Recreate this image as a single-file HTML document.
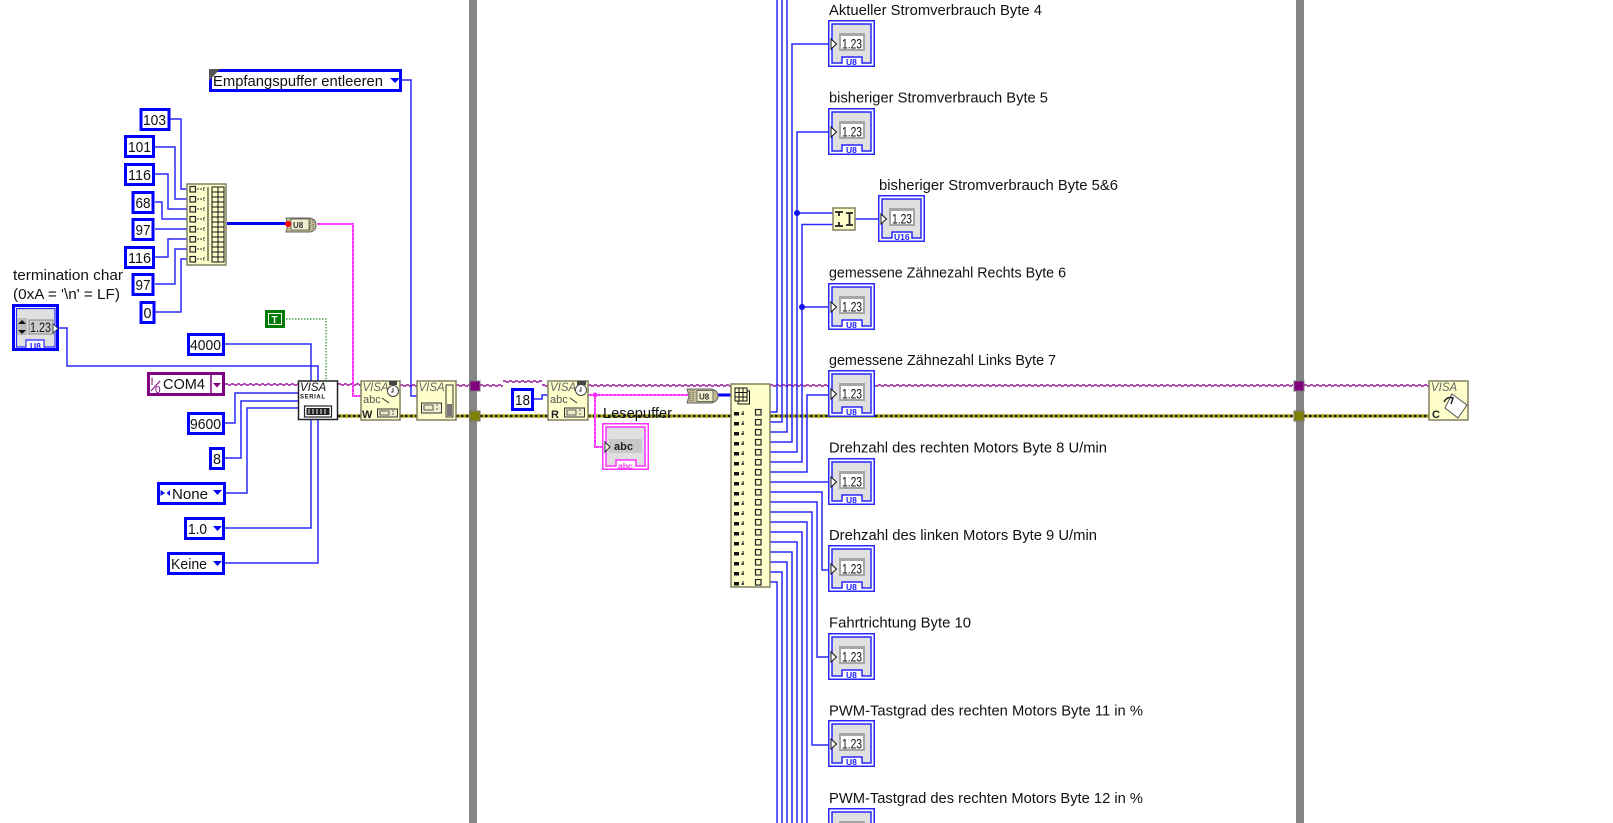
<!DOCTYPE html>
<html><head><meta charset="utf-8"><title>VISA diagram</title>
<style>
html,body{margin:0;padding:0;background:#fff;width:1613px;height:823px;overflow:hidden}
svg{display:block;filter:blur(.35px)}
text{font-family:"Liberation Sans",sans-serif;fill:#111}
.w{fill:none;stroke:#2828ff;stroke-width:1.5}
.pu{fill:none;stroke:#980c98;stroke-width:1.6;stroke-dasharray:3 3}
.c{fill:#fff;stroke:#0000ff;stroke-width:3}
.n{fill:#ffffcc;stroke:#808060;stroke-width:1.5}
.v{font-style:italic;font-size:11.5px;fill:#666}
.lb{font-size:14.5px}
.num{font-size:15px}
.d{font-size:13.5px;fill:#111}
.u{font-size:8.5px;font-weight:bold;fill:#2020ff}
</style></head><body>
<svg width="1613" height="823" viewBox="0 0 1613 823" xmlns="http://www.w3.org/2000/svg">
<defs>
<g id="ind">
<rect x=".75" y=".75" width="45.5" height="45.5" fill="#fff" stroke="#2828ff" stroke-width="1.5"/>
<path d="M4 4H43V43H34V37H14V43H4Z" fill="#e0e0e0" stroke="#2828ff" stroke-width="1.5"/>
<rect x="11" y="13" width="26" height="18" fill="#a6a6a6"/>
<rect x="13" y="16" width="22" height="13" fill="#fff"/>
<path d="M3 19L8.500 24L3 29Z" fill="#fff" stroke="#111" stroke-width="1"/>
</g>
<g id="ar"><rect x="734" y="0" width="5" height="3.500" fill="#111"/><path d="M741 2h3M743 -1v4" stroke="#111" fill="none"/><rect x="755.500" y="-2.500" width="5.500" height="5.500" fill="#ffffcc" stroke="#222" stroke-width="1.200"/></g>
<g id="bi"><rect x="190" y="-2.500" width="5.500" height="5.500" fill="#ffffcc" stroke="#222" stroke-width="1.200"/><path d="M197 0h7M204 -2v4" stroke="#333" stroke-dasharray="2 1" fill="none"/></g>
</defs>

<!-- structure bars -->
<rect x="469" y="0" width="8" height="823" fill="#868686"/>
<rect x="1296" y="0" width="8" height="823" fill="#868686"/>

<!-- purple session wire -->
<g>
<path class="pu" d="M225 384H298M338 384H361M400 385H417M456 385H470M480 385H503M503 381H542M542 385H548M588 385H731M770 385H1293M1304 385H1429"/>
<path class="pu" d="M225 385H298M338 385H361M400 386H417M456 386H470M480 386H503M503 382H542M542 386H548M588 386H731M770 386H1293M1304 386H1429" stroke-dashoffset="3"/>
</g>
<!-- error wire -->
<path d="M338 416H361M400 416H417M456 416H470M480 416H548M588 416H731M770 416H1293M1304 416H1429" fill="none" stroke="#aaaa18" stroke-width="3.500"/>
<path d="M338 416H361M400 416H417M456 416H470M480 416H548M588 416H731M770 416H1293M1304 416H1429" fill="none" stroke="#1c1c1c" stroke-width="2.200" stroke-dasharray="2.500 2.500"/>

<!-- tunnels -->
<rect x="470" y="381" width="10" height="10" fill="#800080" stroke="#777"/>
<rect x="470" y="411" width="10" height="10" fill="#808000" stroke="#777"/>
<rect x="1294" y="381" width="10" height="10" fill="#800080" stroke="#777"/>
<rect x="1294" y="411" width="10" height="10" fill="#808000" stroke="#777"/>

<!-- left wires -->
<path class="w" d="M170 119H181V189H187M155 147H175V199H187M155 174H168V209H187M155 202H162V219H187M155 229H187M155 257H168V239H187M155 284H175V249H187M155 312H181V259H187"/>
<path class="w" d="M402 80H411V396H417"/>
<path class="w" d="M59 328H67V366H318V563H225M225 344H311V381M311 420V528H225M225 423H235V393H298M225 458H241V401H298M226 493H247V408H298"/>
<path d="M286 319H326V380" fill="none" stroke="#209020" stroke-width="1.200" stroke-dasharray="1.500 1.500"/>
<path d="M227 223.500H287" fill="none" stroke="#0000ee" stroke-width="3"/>
<path d="M712 395H731" fill="none" stroke="#0000ee" stroke-width="3"/>
<!-- pink wires -->
<path d="M317 224H353V396H361" fill="none" stroke="#ff30ff" stroke-width="2"/>
<path d="M317 224H353V396H361" fill="none" stroke="#fff" stroke-width=".7" stroke-dasharray="1 3"/>
<path d="M588 395H688M595 395V447H605" fill="none" stroke="#ff30ff" stroke-width="2"/>
<path d="M588 395H688M595 395V447H605" fill="none" stroke="#fff" stroke-width=".7" stroke-dasharray="1 3"/>
<circle cx="595" cy="395" r="2.500" fill="#ff30ff"/>
<path class="w" d="M534 399H542V395H548"/>

<!-- index array wires -->
<path class="w" d="M770 412H777V0M770 422H782V0M770 432H787V0M770 442H792V44H828M770 452H797V132H828M770 462H802V224.500H833M770 472H807V395H828"/>
<path class="w" d="M797 213H833M802 307H828M855 219H878"/>
<circle cx="797" cy="213" r="3" fill="#1010ee"/><circle cx="802" cy="307" r="3" fill="#1010ee"/>
<path class="w" d="M770 482H828M770 492H822V570H828M770 502H817V657H828M770 512H812V745H828M770 522H807V823M770 532H802V823M770 542H797V823M770 552H792V823M770 562H787V823M770 572H782V823M770 582H777V823"/>

<!-- constants -->
<rect class="c" x="141" y="109.500" width="28" height="20"/><text class="num" x="143" y="125" textLength="23" lengthAdjust="spacingAndGlyphs">103</text>
<rect class="c" x="125.500" y="136.500" width="28" height="20"/><text class="num" x="128" y="152" textLength="23" lengthAdjust="spacingAndGlyphs">101</text>
<rect class="c" x="125.500" y="164.500" width="28" height="20"/><text class="num" x="128" y="180" textLength="23" lengthAdjust="spacingAndGlyphs">116</text>
<rect class="c" x="133" y="192.500" width="20" height="20"/><text class="num" x="135.500" y="208" textLength="15" lengthAdjust="spacingAndGlyphs">68</text>
<rect class="c" x="133" y="219.500" width="20" height="20"/><text class="num" x="135.500" y="235" textLength="15" lengthAdjust="spacingAndGlyphs">97</text>
<rect class="c" x="125.500" y="247.500" width="28" height="20"/><text class="num" x="128" y="263" textLength="23" lengthAdjust="spacingAndGlyphs">116</text>
<rect class="c" x="133" y="274.500" width="20" height="20"/><text class="num" x="135.500" y="290" textLength="15" lengthAdjust="spacingAndGlyphs">97</text>
<rect class="c" x="141" y="302.500" width="13" height="20"/><text class="num" x="143.500" y="318" textLength="8" lengthAdjust="spacingAndGlyphs">0</text>

<rect class="c" x="210.500" y="70.500" width="190" height="20"/>
<path d="M209 69H220L209 81Z" fill="#555"/>
<text class="lb" x="213" y="86" textLength="170" lengthAdjust="spacingAndGlyphs">Empfangspuffer entleeren</text>
<path d="M390 78H400L395 83Z" fill="#0000ff"/>

<rect class="c" x="188.500" y="334.500" width="35" height="20"/><text class="num" x="190" y="350" textLength="31" lengthAdjust="spacingAndGlyphs">4000</text>
<rect class="c" x="188.500" y="413.500" width="35" height="20"/><text class="num" x="190" y="429" textLength="31" lengthAdjust="spacingAndGlyphs">9600</text>
<rect class="c" x="210.500" y="448.500" width="13" height="20"/><text class="num" x="213" y="464" textLength="8" lengthAdjust="spacingAndGlyphs">8</text>
<rect class="c" x="158.500" y="483.500" width="66" height="20"/><path d="M165 493L160.500 490V496ZM166.500 493L170 490V496Z" fill="#1010ee" stroke="none"/>
<text class="num" x="172" y="499" textLength="36" lengthAdjust="spacingAndGlyphs">None</text><path d="M213 490H222L217.500 495Z" fill="#0000ff"/>
<rect class="c" x="185.500" y="518.500" width="38" height="20"/><text class="num" x="188" y="534" textLength="19" lengthAdjust="spacingAndGlyphs">1.0</text><path d="M213 526H222L217.500 531Z" fill="#0000ff"/>
<rect class="c" x="168.500" y="553.500" width="55" height="20"/><text class="num" x="171" y="569" textLength="36" lengthAdjust="spacingAndGlyphs">Keine</text><path d="M213 561H222L217.500 566Z" fill="#0000ff"/>
<rect class="c" x="512.500" y="389.500" width="20" height="20"/><text class="num" x="515" y="405" textLength="15" lengthAdjust="spacingAndGlyphs">18</text>

<!-- COM4 -->
<rect x="148.500" y="373.500" width="75" height="21" fill="#fff" stroke="#800080" stroke-width="3"/>
<path d="M211 374V394" stroke="#800080" stroke-width="1.500"/>
<text x="150.500" y="385" style="font-size:11px;fill:#800080">I</text><text x="155" y="393" style="font-size:10px;fill:#800080">0</text>
<path d="M151 391L160 381" stroke="#800080"/>
<text class="num" x="163" y="389" textLength="42" lengthAdjust="spacingAndGlyphs">COM4</text>
<path d="M213 383H221L217 387.500Z" fill="#800080"/>

<!-- T constant -->
<rect x="266.500" y="311.500" width="17" height="15" fill="#fff" stroke="#007a00" stroke-width="3"/>
<rect x="269" y="314" width="12" height="10" fill="#007a00"/>
<text x="271.500" y="323" style="font-size:10px;font-weight:bold;fill:#fff">T</text>

<!-- termination control -->
<text class="lb" x="13" y="280" textLength="110" lengthAdjust="spacingAndGlyphs">termination char</text>
<text class="lb" x="13" y="299" textLength="107" lengthAdjust="spacingAndGlyphs">(0xA = '\n' = LF)</text>
<rect x="13.500" y="305.500" width="44" height="44" fill="#fff" stroke="#0000ff" stroke-width="3"/>
<path d="M16.500 308.500H55V347H44V340H26V347H16.500Z" fill="#e0e0e0" stroke="#2a2aff" stroke-width="1.200"/>
<rect x="17" y="318" width="10" height="17" fill="#bbb"/><path d="M18 324L22 320L26 324ZM18 330H26L22 334Z" fill="#111"/>
<rect x="29" y="320" width="24" height="14" fill="#ccc" stroke="#888"/>
<text class="d" x="30" y="332" textLength="21" lengthAdjust="spacingAndGlyphs">1.23</text>
<path d="M53 324L58 328.500L53 333Z" fill="#fff" stroke="#222" stroke-width=".8"/>
<text class="u" x="30" y="349">U8</text>

<!-- array build -->
<rect class="n" x="187" y="184" width="39" height="81"/>
<use href="#bi" y="189"/><use href="#bi" y="199"/><use href="#bi" y="209"/><use href="#bi" y="219"/><use href="#bi" y="229"/><use href="#bi" y="239"/><use href="#bi" y="249"/><use href="#bi" y="259"/>
<path d="M208 187V261" stroke="#222" fill="none"/>
<path d="M212 187H224V262H212ZM218 187V262M212 192H224M212 197H224M212 202H224M212 207H224M212 212H224M212 217H224M212 222H224M212 227H224M212 232H224M212 237H224M212 242H224M212 247H224M212 252H224M212 257H224" fill="#ffffcc" stroke="#111" stroke-width="1"/>

<!-- conversion nodes -->
<path d="M286 218H310Q316 219 316 225Q316 231 310 232H286L288 225Z" fill="#c0bb90" stroke="#666"/>
<circle cx="288" cy="224" r="3" fill="#f00"/>
<rect x="291" y="219" width="18" height="11" fill="#eeeecc" stroke="#444" stroke-width=".7"/>
<text x="293" y="228" style="font-size:8px;font-weight:bold;fill:#333">U8</text>
<path d="M310 219V231M313 220V230" stroke="#555" stroke-dasharray="1 1"/>
<path d="M687 389H712Q718 391 718 396Q718 401 712 403H687L689 396Z" fill="#c0bb90" stroke="#666"/>
<rect x="697" y="390.500" width="16" height="11" fill="#eeeecc" stroke="#444" stroke-width=".7"/>
<text x="699" y="399.500" style="font-size:8px;font-weight:bold;fill:#333">U8</text>
<path d="M690 390V402M693 390V402" stroke="#555" stroke-dasharray="1 1"/>

<!-- VISA serial -->
<rect x="298.500" y="381" width="39" height="38.500" fill="#fff" stroke="#222" stroke-width="1.500"/>
<text x="300" y="391" style="font-size:11.500px;font-style:italic;fill:#111">VISA</text>
<text x="300" y="398.500" style="font-size:6px;font-weight:bold;fill:#111" textLength="25" lengthAdjust="spacing">SERIAL</text>
<rect x="304.500" y="406" width="27" height="11" fill="#fff" stroke="#222" stroke-width="1.200"/>
<rect x="306.500" y="408" width="23" height="7" fill="#222"/>
<path d="M309 409V414M313 409V414M317 409V414M321 409V414M325 409V414" stroke="#eee"/>

<!-- VISA write -->
<rect class="n" x="361" y="381" width="39" height="39"/>
<text class="v" x="362.500" y="391">VISA</text>
<circle cx="393" cy="391" r="5.500" fill="#fff" stroke="#444"/><rect x="389" y="381" width="8" height="4" fill="#444"/><path d="M393 388V392H391" stroke="#333" fill="none"/>
<text x="363" y="403" style="font-size:11px;fill:#555">abc</text><path d="M382 398L389 403" stroke="#333"/>
<text x="362" y="418" style="font-size:11px;font-weight:bold;fill:#222">W</text>
<rect x="377.500" y="409" width="20" height="8" fill="#eeeecc" stroke="#333" stroke-width="1"/>
<path d="M380 411h9v4h-9zM392 411h2M392 414h2" fill="none" stroke="#333" stroke-width=".8"/>

<!-- VISA flush -->
<rect class="n" x="417" y="381" width="39" height="39"/>
<text class="v" x="418.500" y="391">VISA</text>
<rect x="421.500" y="403" width="20" height="10" fill="#eeeecc" stroke="#333" stroke-width="1"/>
<path d="M424 405h9v5h-9zM436 405h2M436 409h2" fill="none" stroke="#333" stroke-width=".8"/>
<rect x="446" y="385" width="7" height="32" fill="#ffffcc" stroke="#333" stroke-width="1"/>
<rect x="447" y="404" width="5" height="12" fill="#777"/>

<!-- VISA read -->
<rect class="n" x="548" y="381" width="40" height="39"/>
<text class="v" x="550" y="391">VISA</text>
<circle cx="581" cy="390" r="5.500" fill="#fff" stroke="#444"/><rect x="577" y="381" width="9" height="4" fill="#444"/><path d="M581 387V391H579" stroke="#333" fill="none"/>
<text x="550" y="403" style="font-size:11px;fill:#555">abc</text><path d="M570 398L577 403" stroke="#333"/>
<text x="551" y="418" style="font-size:11px;font-weight:bold;fill:#222">R</text>
<rect x="564.500" y="408" width="20" height="9" fill="#eeeecc" stroke="#333" stroke-width="1"/>
<path d="M567 410h9v5h-9zM579 410h2M579 414h2" fill="none" stroke="#333" stroke-width=".8"/>

<!-- Lesepuffer -->
<text class="lb" x="603" y="418" textLength="69" lengthAdjust="spacingAndGlyphs">Lesepuffer</text>
<rect x="602.750" y="423.750" width="45.500" height="45.500" fill="#fff" stroke="#ff30ff" stroke-width="1.500"/>
<path d="M606 427H645V466H636V460H616V466H606Z" fill="#e0e0e0" stroke="#ff30ff" stroke-width="1.500"/>
<rect x="609" y="439" width="33" height="14" fill="#c8c8c8"/>
<path d="M605 442L610 447L605 452Z" fill="#fff" stroke="#222"/>
<text x="614" y="450" style="font-size:11px;font-weight:bold;fill:#222">abc</text>
<text x="618" y="469" style="font-size:8.500px;fill:#ff30ff;font-weight:bold">abc</text>

<!-- Index array -->
<rect class="n" x="731" y="384" width="39" height="203"/>
<path d="M735 388H747V401H735ZM739 388V401M743 388V401M735 392.500H747M735 397H747" fill="#ffffcc" stroke="#111" stroke-width="1"/>
<path d="M747 391H749.500V404H738V401" fill="none" stroke="#111"/>
<use href="#ar" y="412"/><use href="#ar" y="422"/><use href="#ar" y="432"/><use href="#ar" y="442"/><use href="#ar" y="452"/><use href="#ar" y="462"/><use href="#ar" y="472"/><use href="#ar" y="482"/><use href="#ar" y="492"/><use href="#ar" y="502"/><use href="#ar" y="512"/><use href="#ar" y="522"/><use href="#ar" y="532"/><use href="#ar" y="542"/><use href="#ar" y="552"/><use href="#ar" y="562"/><use href="#ar" y="572"/><use href="#ar" y="582"/>

<!-- Join -->
<rect class="n" x="833" y="208" width="22" height="22"/>
<path d="M835 212H843M839 212V216M835 226H843M839 226V222M846 213H853M849.500 213V225M846 225H853" stroke="#222" stroke-width="1.800" fill="none"/>

<!-- Close -->
<rect class="n" x="1429" y="381" width="39" height="39"/>
<text class="v" x="1431" y="391">VISA</text>
<path d="M1452 394L1467 405L1458 418L1445 408Z" fill="#fff" stroke="#555"/>
<path d="M1444 402Q1447 396 1453 398L1451 404" fill="none" stroke="#222" stroke-width="1.500"/>
<text x="1432" y="418" style="font-size:11px;font-weight:bold;fill:#222">C</text>

<!-- Indicators -->
<use href="#ind" x="828" y="20"/><text class="d" x="842" y="48.500" textLength="20" lengthAdjust="spacingAndGlyphs">1.23</text><text class="u" x="846" y="65">U8</text>
<use href="#ind" x="828" y="108"/><text class="d" x="842" y="136.500" textLength="20" lengthAdjust="spacingAndGlyphs">1.23</text><text class="u" x="846" y="153">U8</text>
<use href="#ind" x="878" y="195"/><text class="d" x="892" y="223.500" textLength="20" lengthAdjust="spacingAndGlyphs">1.23</text><text class="u" x="894" y="240">U16</text>
<use href="#ind" x="828" y="283"/><text class="d" x="842" y="311.500" textLength="20" lengthAdjust="spacingAndGlyphs">1.23</text><text class="u" x="846" y="328">U8</text>
<use href="#ind" x="828" y="370"/><text class="d" x="842" y="398.500" textLength="20" lengthAdjust="spacingAndGlyphs">1.23</text><text class="u" x="846" y="415">U8</text>
<use href="#ind" x="828" y="458"/><text class="d" x="842" y="486.500" textLength="20" lengthAdjust="spacingAndGlyphs">1.23</text><text class="u" x="846" y="503">U8</text>
<use href="#ind" x="828" y="545"/><text class="d" x="842" y="573.500" textLength="20" lengthAdjust="spacingAndGlyphs">1.23</text><text class="u" x="846" y="590">U8</text>
<use href="#ind" x="828" y="633"/><text class="d" x="842" y="661.500" textLength="20" lengthAdjust="spacingAndGlyphs">1.23</text><text class="u" x="846" y="678">U8</text>
<use href="#ind" x="828" y="720"/><text class="d" x="842" y="748.500" textLength="20" lengthAdjust="spacingAndGlyphs">1.23</text><text class="u" x="846" y="765">U8</text>
<use href="#ind" x="828" y="808"/>

<!-- Labels -->
<text class="lb" x="829" y="15" textLength="213" lengthAdjust="spacingAndGlyphs">Aktueller Stromverbrauch Byte 4</text>
<text class="lb" x="829" y="102.500" textLength="219" lengthAdjust="spacingAndGlyphs">bisheriger Stromverbrauch Byte 5</text>
<text class="lb" x="879" y="190" textLength="239" lengthAdjust="spacingAndGlyphs">bisheriger Stromverbrauch Byte 5&amp;6</text>
<text class="lb" x="829" y="277.500" textLength="237" lengthAdjust="spacingAndGlyphs">gemessene Zähnezahl Rechts Byte 6</text>
<text class="lb" x="829" y="365" textLength="227" lengthAdjust="spacingAndGlyphs">gemessene Zähnezahl Links Byte 7</text>
<text class="lb" x="829" y="452.500" textLength="278" lengthAdjust="spacingAndGlyphs">Drehzahl des rechten Motors Byte 8 U/min</text>
<text class="lb" x="829" y="540" textLength="268" lengthAdjust="spacingAndGlyphs">Drehzahl des linken Motors Byte 9 U/min</text>
<text class="lb" x="829" y="627.500" textLength="142" lengthAdjust="spacingAndGlyphs">Fahrtrichtung Byte 10</text>
<text class="lb" x="829" y="715.500" textLength="314" lengthAdjust="spacingAndGlyphs">PWM-Tastgrad des rechten Motors Byte 11 in %</text>
<text class="lb" x="829" y="803" textLength="314" lengthAdjust="spacingAndGlyphs">PWM-Tastgrad des rechten Motors Byte 12 in %</text>
</svg>
</body></html>
